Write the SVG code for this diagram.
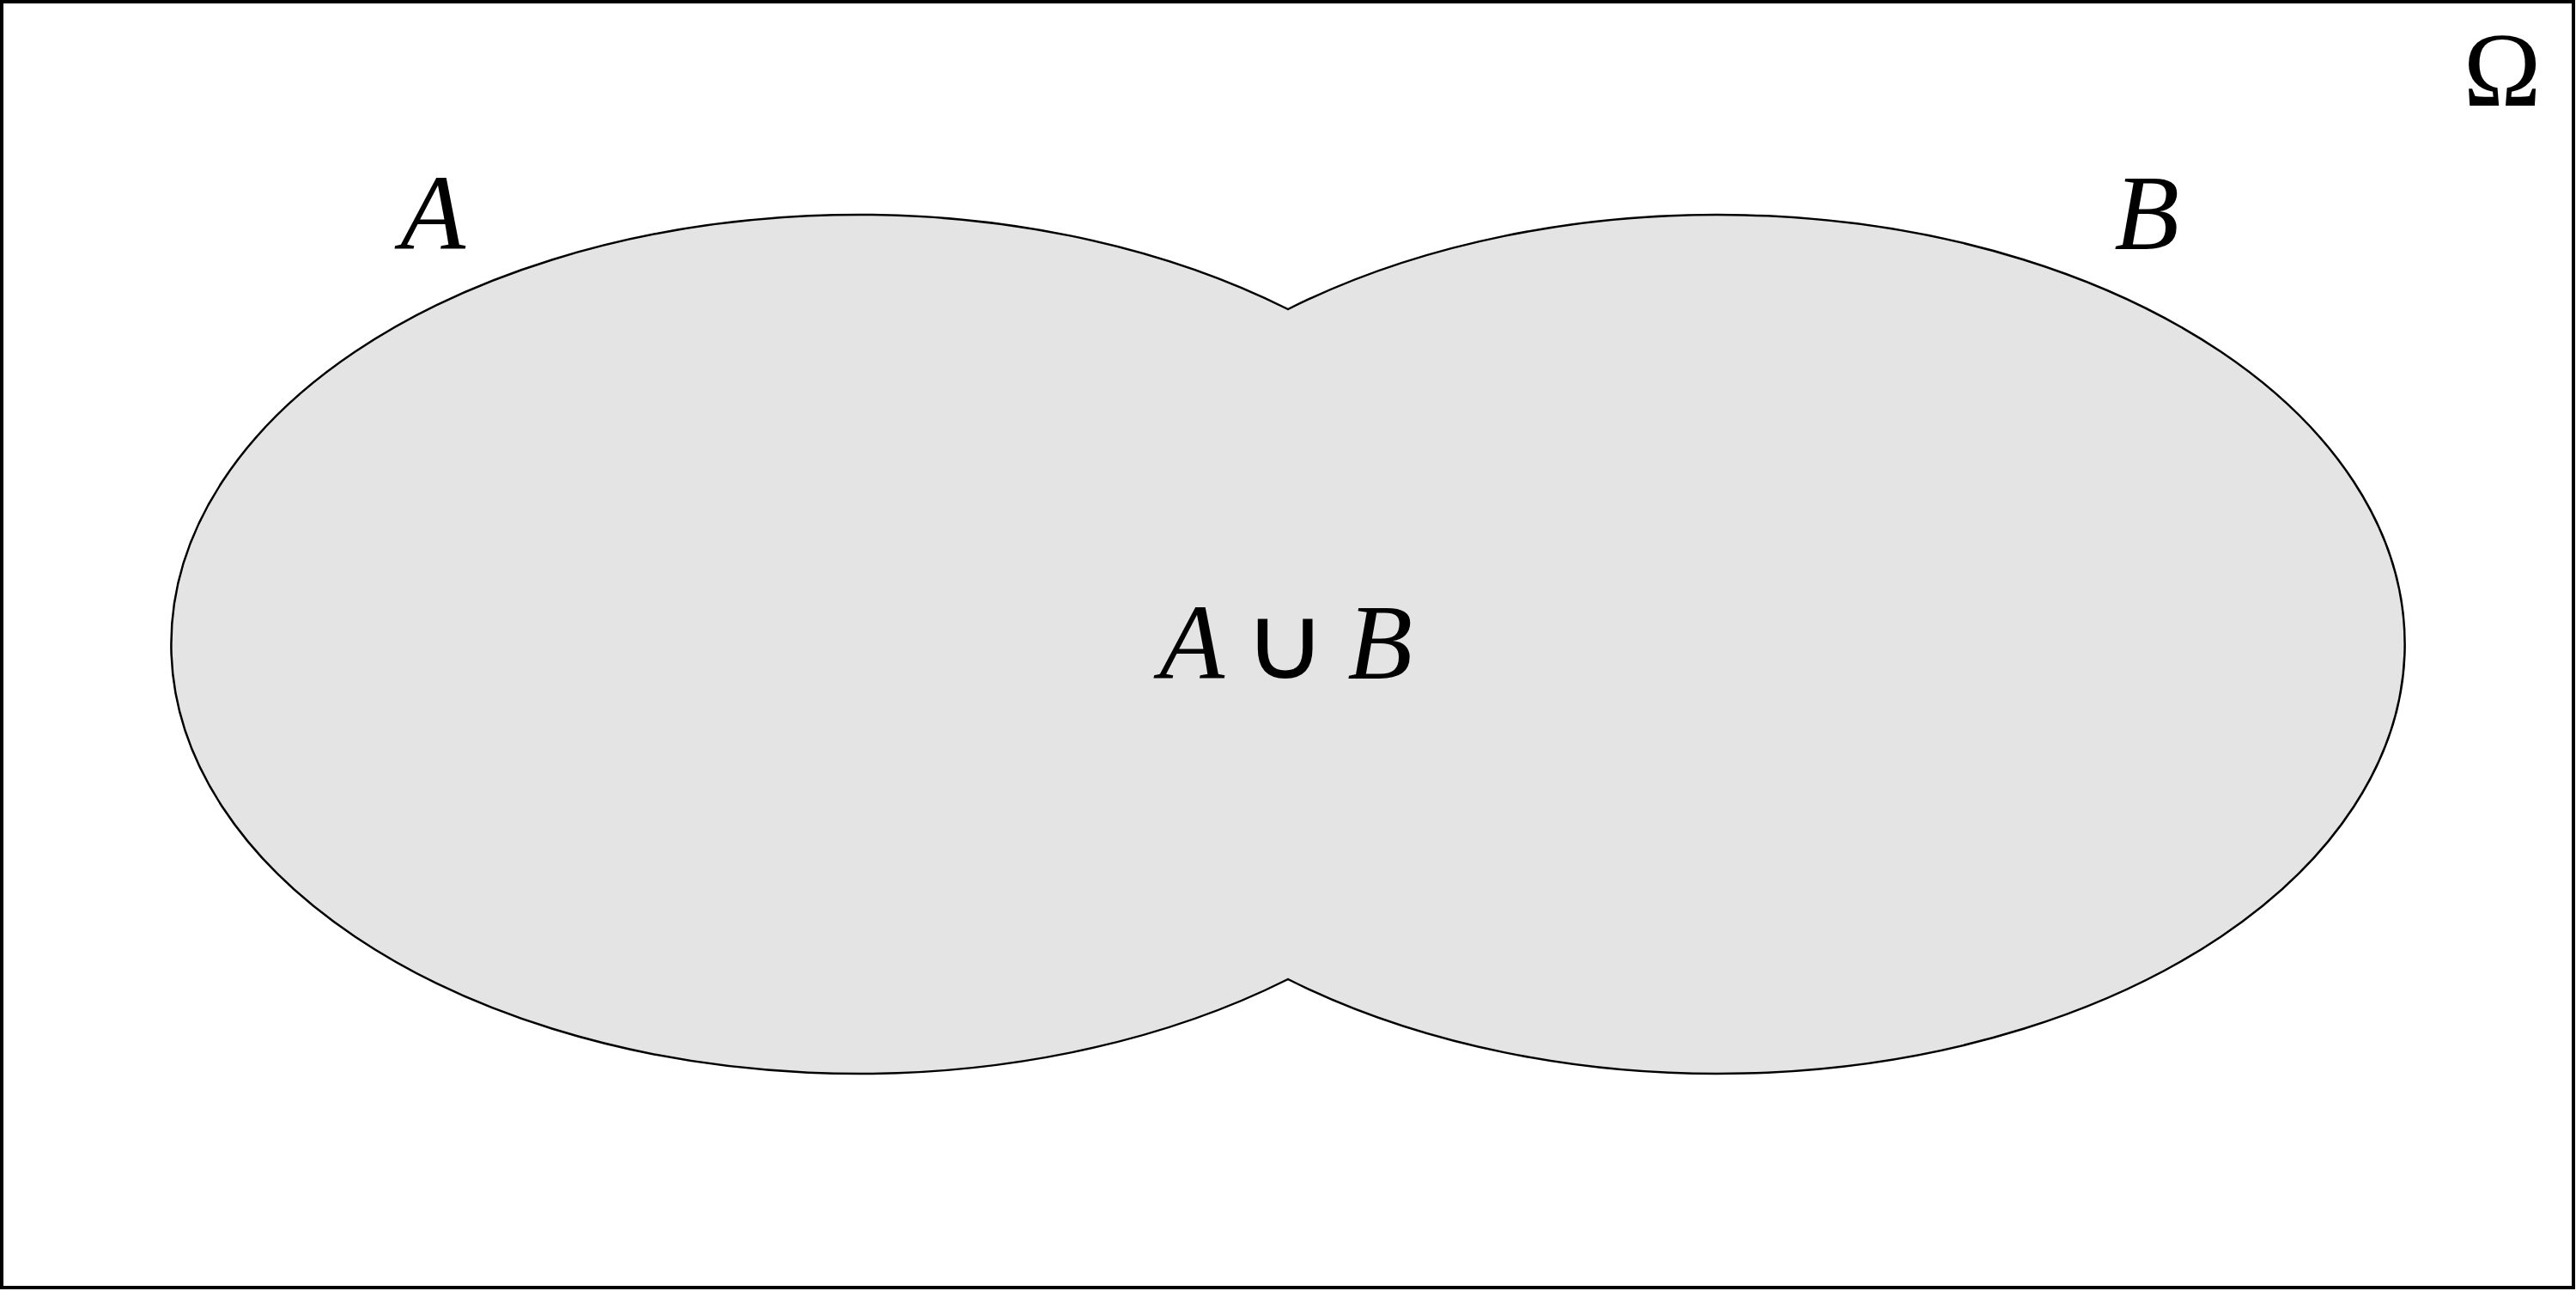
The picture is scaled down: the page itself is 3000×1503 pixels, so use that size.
<svg xmlns="http://www.w3.org/2000/svg" width="3000" height="1503" viewBox="0 0 3000 1503">
<style>
.m{font-family:"Liberation Serif","DejaVu Serif",serif;font-style:italic;font-size:124px;fill:#000;text-anchor:middle}
.u{font-family:"Liberation Serif","DejaVu Sans",serif;font-size:120px;fill:#000;text-anchor:middle}
.o{font-family:"Liberation Serif","DejaVu Serif",serif;font-size:122px;fill:#000;text-anchor:middle}
</style>
<rect x="0" y="0" width="3000" height="1503" fill="#fff"/>
<rect x="2" y="2" width="2995" height="1497" fill="none" stroke="#000" stroke-width="4"/>
<g id="union">
<path d="M1500,360 A800,500 0 1 0 1500,1140 A800,500 0 1 0 1500,360 Z" fill="#e4e4e4" stroke="#000" stroke-width="2.5"/>
</g>
<g id="labelA"><text class="m" x="504" y="290">A</text></g>
<g id="labelB"><text class="m" x="2500" y="290">B</text></g>
<g id="labelOmega"><text class="o" x="2914" y="123">Ω</text></g>
<g id="labelUnion">
<text class="m" x="1388" y="790">A</text>
<text class="u" x="0" y="790" transform="translate(1497,0) scale(1.12,1)">∪</text>
<text class="m" x="1607" y="790">B</text>
</g>
</svg>
